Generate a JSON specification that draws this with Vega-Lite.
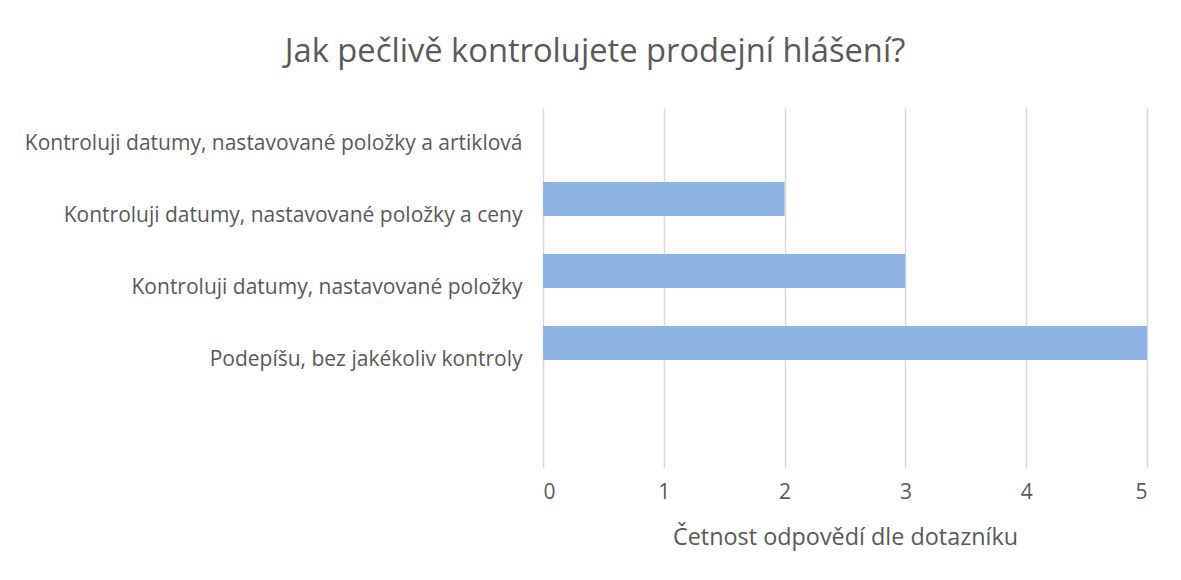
{
  "$schema": "https://vega.github.io/schema/vega-lite/v6.json",
  "width": 604,
  "height": 360,
  "autosize": "none",
  "padding": {"left": 543, "top": 108, "right": 34, "bottom": 112},
  "background": "white",
  "title": {
    "text": "Jak pečlivě kontrolujete prodejní hlášení?",
    "anchor": "middle",
    "dx": -250,
    "offset": 39,
    "fontSize": 32.7,
    "font": "Open Sans",
    "fontWeight": "normal",
    "color": "#595959"
  },
  "data": {
    "values": [
      {"odpoved": "Kontroluji datumy, nastavované položky a artiklová", "rada": "Řada 1", "cetnost": 0},
      {"odpoved": "Kontroluji datumy, nastavované položky a ceny", "rada": "Řada 1", "cetnost": 2},
      {"odpoved": "Kontroluji datumy, nastavované položky", "rada": "Řada 1", "cetnost": 3},
      {"odpoved": "Podepíšu, bez jakékoliv kontroly", "rada": "Řada 1", "cetnost": 5}
    ]
  },
  "mark": {"type": "bar", "color": "#8EB4E3"},
  "encoding": {
    "y": {
      "field": "odpoved",
      "type": "nominal",
      "scale": {
        "domain": [
          "Kontroluji datumy, nastavované položky a artiklová",
          "Kontroluji datumy, nastavované položky a ceny",
          "Kontroluji datumy, nastavované položky",
          "Podepíšu, bez jakékoliv kontroly",
          " "
        ],
        "paddingInner": 0.0556,
        "paddingOuter": 0.0278
      },
      "axis": {
        "title": null,
        "domain": false,
        "ticks": false,
        "grid": false,
        "labelPadding": 21,
        "labelFont": "Open Sans",
        "labelFontSize": 21,
        "labelColor": "#595959",
        "labelLimit": 700
      }
    },
    "yOffset": {
      "field": "rada",
      "type": "nominal",
      "scale": {"domain": ["Řada 1", "Řada 2"], "paddingInner": 0, "paddingOuter": 0}
    },
    "x": {
      "field": "cetnost",
      "type": "quantitative",
      "scale": {"domain": [0, 5], "nice": false},
      "axis": {
        "values": [0, 1, 2, 3, 4, 5],
        "grid": true,
        "gridColor": "#d9d9d9",
        "gridWidth": 1.5,
        "domain": false,
        "ticks": false,
        "labelPadding": 13,
        "labelFont": "Open Sans",
        "labelFontSize": 21,
        "labelColor": "#595959",
        "title": "Četnost odpovědí dle dotazníku",
        "titleFont": "Open Sans",
        "titleFontSize": 23.4,
        "titleFontWeight": "normal",
        "titleColor": "#595959",
        "titlePadding": 24
      }
    }
  },
  "config": {"view": {"stroke": null}}
}
